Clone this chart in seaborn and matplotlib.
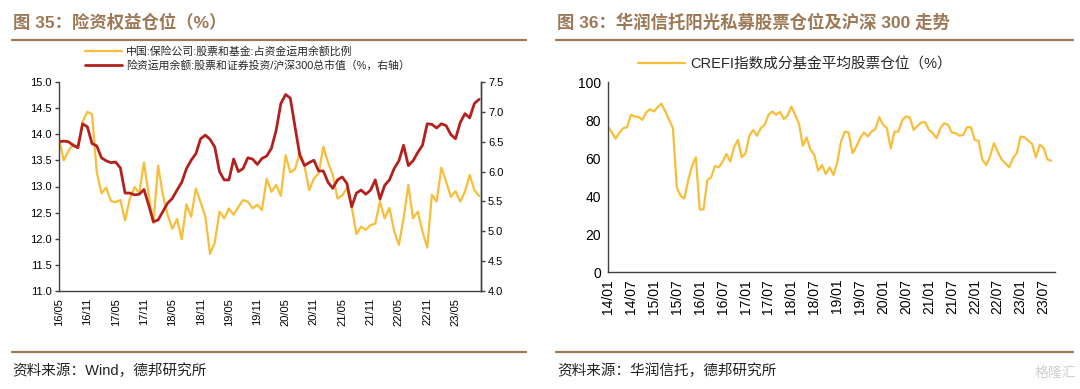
import matplotlib
matplotlib.use('Agg')
import matplotlib.pyplot as plt
import seaborn as sns
import numpy as np
import pandas as pd
from matplotlib.lines import Line2D

sns.set_style('white')
plt.rcParams['font.family'] = ['Liberation Sans', 'Noto Sans CJK SC', 'DejaVu Sans']
plt.rcParams['axes.unicode_minus'] = False

# ---- data: fig 35 (monthly, 2016/05 - 2023/10) ----
left_ticks = ['16/05', '16/11', '17/05', '17/11', '18/05', '18/11', '19/05', '19/11',
              '20/05', '20/11', '21/05', '21/11', '22/05', '22/11', '23/05']
stock_fund_share = [
    13.93, 13.50, 13.68, 13.81, 13.75, 14.24, 14.43, 14.38, 13.28, 12.87,
    12.98, 12.72, 12.70, 12.74, 12.35, 12.77, 12.99, 12.87, 13.46, 12.84,
    12.30, 13.40, 12.84, 12.46, 12.19, 12.38, 11.99, 12.66, 12.42, 12.96,
    12.70, 12.42, 11.71, 11.93, 12.52, 12.39, 12.58, 12.46, 12.61, 12.74,
    12.71, 12.58, 12.65, 12.55, 13.15, 12.90, 13.03, 12.82, 13.60, 13.27,
    13.33, 13.65, 13.40, 12.93, 13.15, 13.25, 13.76, 13.46, 13.22, 12.77,
    12.83, 12.97, 12.62, 12.09, 12.23, 12.17, 12.26, 12.29, 12.71, 12.39,
    12.59, 12.15, 11.88, 12.39, 13.03, 12.39, 12.52, 12.14, 11.83, 12.84,
    12.71, 13.36, 13.10, 12.80, 12.91, 12.71, 12.90, 13.22, 12.93, 12.82]
stock_vs_hs300 = [
    6.50, 6.51, 6.50, 6.44, 6.40, 6.80, 6.75, 6.47, 6.43, 6.23,
    6.18, 6.15, 6.16, 6.06, 5.64, 5.64, 5.61, 5.62, 5.70, 5.44,
    5.16, 5.19, 5.33, 5.47, 5.55, 5.69, 5.82, 6.05, 6.19, 6.30,
    6.55, 6.61, 6.54, 6.41, 6.00, 5.86, 5.86, 6.21, 6.00, 6.05,
    6.23, 6.21, 6.12, 6.22, 6.26, 6.39, 6.69, 7.14, 7.29, 7.23,
    6.75, 6.28, 6.10, 6.15, 6.19, 6.01, 6.01, 5.82, 5.72, 5.86,
    5.91, 5.80, 5.41, 5.64, 5.69, 5.62, 5.69, 5.86, 5.54, 5.77,
    5.86, 6.05, 6.18, 6.44, 6.10, 6.18, 6.32, 6.44, 6.80, 6.79,
    6.73, 6.80, 6.77, 6.62, 6.55, 6.82, 6.97, 6.90, 7.14, 7.21]

# ---- data: fig 36 (monthly, 2014/01 - 2023/09) ----
right_ticks = ['14/01', '14/07', '15/01', '15/07', '16/01', '16/07', '17/01', '17/07',
               '18/01', '18/07', '19/01', '19/07', '20/01', '20/07', '21/01', '21/07',
               '22/01', '22/07', '23/01', '23/07']
crefi_position = [
    76.6, 73.4, 70.1, 73.4, 75.7, 76.2, 82.7, 81.9, 81.5, 80.1,
    84.0, 85.7, 84.5, 86.8, 88.6, 84.5, 80.1, 75.7, 44.5, 40.0,
    38.7, 48.4, 55.8, 60.4, 32.9, 32.9, 48.4, 49.8, 55.8, 55.1,
    58.1, 62.1, 58.1, 65.7, 69.5, 60.4, 62.5, 71.7, 74.8, 71.7,
    75.7, 77.5, 82.7, 84.5, 82.7, 84.3, 80.5, 82.4, 87.1, 82.7,
    78.0, 66.4, 70.8, 64.3, 61.6, 53.3, 56.3, 51.6, 55.1, 51.1,
    57.6, 68.7, 73.9, 73.4, 62.5, 66.0, 70.4, 73.4, 71.3, 73.9,
    75.2, 81.5, 77.5, 75.7, 65.1, 73.9, 73.9, 79.8, 81.9, 81.3,
    74.8, 76.9, 78.7, 78.9, 74.8, 73.1, 70.4, 75.7, 78.3, 77.5,
    73.4, 73.1, 71.7, 72.2, 76.2, 76.2, 69.5, 69.0, 59.0, 56.3,
    60.7, 67.8, 63.4, 59.3, 57.2, 55.1, 59.9, 62.5, 71.3, 70.9,
    69.2, 67.4, 60.4, 66.9, 65.5, 59.3, 58.6]

YELLOW = '#F8BE3A'
RED = '#B3211E'
BROWN = '#9C7855'
AXC = '#404040'

W, H = 1080, 389
fig = plt.figure(figsize=(W / 100, H / 100), dpi=100)


def fx(px):
    return px / W


def fy(py):
    return 1 - py / H


def style_axis(ax, size):
    for s in ax.spines.values():
        s.set_color(AXC)
        s.set_linewidth(1.0)
    ax.tick_params(axis='both', direction='out', length=3, width=1,
                   color=AXC, labelsize=size, labelcolor='black', pad=2)
    ax.grid(False)


# ---------------- left chart ----------------
df_l = pd.DataFrame({'m': np.arange(len(stock_fund_share)),
                     'share': stock_fund_share, 'mv': stock_vs_hs300})
ax1 = fig.add_axes([fx(59), fy(291), fx(481 - 59), (291 - 82) / H])
sns.lineplot(data=df_l, x='m', y='share', ax=ax1, color=YELLOW, linewidth=1.6)
ax1.set_ylim(11, 15)
ax1.set_yticks(np.arange(11, 15.01, 0.5))
ax1.set_yticklabels([f'{v:.1f}' for v in np.arange(11, 15.01, 0.5)])
ax1.set_xlim(0, 89.4)
ax1.set_xticks(np.arange(0, 6 * len(left_ticks), 6))
ax1.set_xticklabels(left_ticks, rotation=90)
ax1.set_xlabel('')
ax1.set_ylabel('')
style_axis(ax1, 8)
ax1.spines['top'].set_visible(False)

ax2 = ax1.twinx()
sns.lineplot(data=df_l, x='m', y='mv', ax=ax2, color=RED, linewidth=2.0)
ax2.set_ylim(4, 7.5)
ax2.set_yticks(np.arange(4, 7.51, 0.5))
ax2.set_yticklabels([f'{v:.1f}' for v in np.arange(4, 7.51, 0.5)])
ax2.set_ylabel('')
style_axis(ax2, 8)
ax2.spines['top'].set_visible(False)
ax2.spines['left'].set_visible(False)
ax2.spines['bottom'].set_visible(False)

handles = [Line2D([], [], color=YELLOW, lw=1.6), Line2D([], [], color=RED, lw=2.0)]
fig.legend(handles, ['中国:保险公司:股票和基金:占资金运用余额比例',
                     '险资运用余额:股票和证券投资/沪深300总市值（%，右轴）'],
           loc='upper left', bbox_to_anchor=(fx(85), fy(46)), frameon=False,
           fontsize=7.8, handlelength=3.4, handletextpad=0.4, labelspacing=0.3,
           borderaxespad=0, borderpad=0)

# ---------------- right chart ----------------
df_r = pd.DataFrame({'m': np.arange(len(crefi_position)), 'pos': crefi_position})
ax3 = fig.add_axes([fx(608), fy(272), fx(1055 - 608), (272 - 82) / H])
sns.lineplot(data=df_r, x='m', y='pos', ax=ax3, color=YELLOW, linewidth=1.6,
             label='CREFI指数成分基金平均股票仓位（%）')
ax3.set_ylim(0, 100)
ax3.set_yticks(np.arange(0, 101, 20))
ax3.set_xlim(0, 117)
ax3.set_xticks(np.arange(0, 6 * len(right_ticks), 6))
ax3.set_xticklabels(right_ticks, rotation=90)
ax3.set_xlabel('')
ax3.set_ylabel('')
style_axis(ax3, 10)
ax3.spines['top'].set_visible(False)
ax3.spines['right'].set_visible(False)
ax3.legend(loc='upper left', bbox_to_anchor=(fx(638), fy(57)),
           bbox_transform=fig.transFigure, frameon=False, fontsize=10.5,
           handlelength=3.2, handletextpad=0.4, borderaxespad=0, borderpad=0)

# ---------------- titles, rules, sources ----------------
fig.text(fx(13), fy(22), '图 35：险资权益仓位（%）', fontsize=12.5,
         fontweight='bold', color=BROWN, va='center', ha='left')
fig.text(fx(557), fy(22), '图 36：华润信托阳光私募股票仓位及沪深 300 走势',
         fontsize=12.5, fontweight='bold', color=BROWN, va='center', ha='left')
for x0, x1 in [(12, 526), (556, 1073)]:
    for y in (40, 352):
        fig.add_artist(Line2D([fx(x0), fx(x1)], [fy(y), fy(y)],
                              transform=fig.transFigure, color=BROWN, lw=1.6))
fig.text(fx(12), fy(371), '资料来源：Wind，德邦研究所', fontsize=10.5,
         color='#222222', va='center', ha='left')
fig.text(fx(557), fy(371), '资料来源：华润信托，德邦研究所', fontsize=10.5,
         color='#222222', va='center', ha='left')
fig.text(fx(1076), fy(373), '格隆汇', fontsize=10, color='#cfcfcf',
         va='center', ha='right')

fig.savefig('out.png', dpi=100)
